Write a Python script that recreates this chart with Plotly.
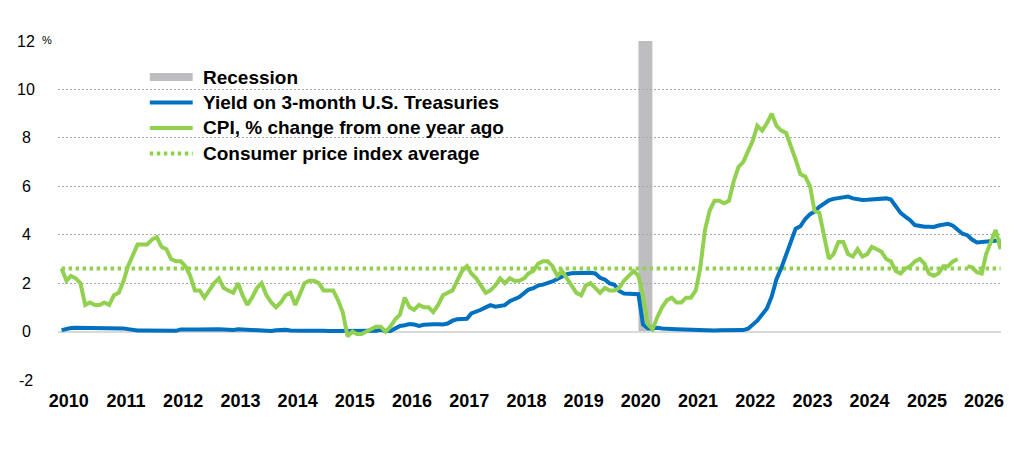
import pandas as pd
import plotly.graph_objects as go

# monthly values, Jan 2010 - Jun 2026
cpi_yoy = [
    2.6, 2.1, 2.3, 2.2, 2.0, 1.1, 1.2, 1.1, 1.1, 1.2, 1.1, 1.5,
    1.6, 2.1, 2.7, 3.2, 3.6, 3.6, 3.6, 3.8, 3.9, 3.5, 3.4, 3.0,
    2.9, 2.9, 2.7, 2.3, 1.7, 1.7, 1.4, 1.7, 2.0, 2.2, 1.8, 1.7,
    1.6, 2.0, 1.5, 1.1, 1.4, 1.8, 2.0, 1.5, 1.2, 1.0, 1.2, 1.5,
    1.6, 1.1, 1.5, 2.0, 2.1, 2.1, 2.0, 1.7, 1.7, 1.7, 1.3, 0.8,
    -0.2, 0.0, -0.1, -0.1, 0.0, 0.1, 0.2, 0.2, 0.0, 0.2, 0.5, 0.7,
    1.4, 1.0, 0.9, 1.1, 1.0, 1.0, 0.8, 1.1, 1.5, 1.6, 1.7, 2.1,
    2.5, 2.7, 2.4, 2.2, 1.9, 1.6, 1.7, 1.9, 2.2, 2.0, 2.2, 2.1,
    2.1, 2.2, 2.4, 2.5, 2.8, 2.9, 2.9, 2.7, 2.3, 2.5, 2.2, 1.9,
    1.6, 1.5, 1.9, 2.0, 1.8, 1.6, 1.8, 1.7, 1.7, 1.8, 2.1, 2.3,
    2.5, 2.3, 1.5, 0.3, 0.1, 0.6, 1.0, 1.3, 1.4, 1.2, 1.2, 1.4,
    1.4, 1.7, 2.6, 4.2, 5.0, 5.4, 5.4, 5.3, 5.4, 6.2, 6.8, 7.0,
    7.5, 7.9, 8.5, 8.3, 8.6, 9.0, 8.5, 8.3, 8.2, 7.7, 7.1, 6.5,
    6.4, 6.0, 5.0, 4.9, 4.0, 3.0, 3.2, 3.7, 3.7, 3.2, 3.1, 3.4,
    3.1, 3.2, 3.5, 3.4, 3.3, 3.0, 2.9, 2.5, 2.4, 2.6, 2.7, 2.9,
    3.0, 2.8, 2.4, 2.3, 2.4, 2.7, 2.7, 2.9, 3.0, None, 2.7, 2.65,
    2.45, 2.4, 3.2, 3.7, 4.2, 3.4,
]
treasury_3m = [
    0.06, 0.11, 0.15, 0.16, 0.16, 0.12, 0.16, 0.16, 0.15, 0.13, 0.14, 0.14,
    0.15, 0.13, 0.10, 0.06, 0.04, 0.04, 0.04, 0.02, 0.01, 0.02, 0.01, 0.01,
    0.03, 0.09, 0.08, 0.08, 0.09, 0.09, 0.10, 0.10, 0.11, 0.10, 0.09, 0.07,
    0.07, 0.10, 0.09, 0.06, 0.04, 0.05, 0.04, 0.04, 0.02, 0.05, 0.07, 0.07,
    0.04, 0.05, 0.05, 0.03, 0.03, 0.04, 0.03, 0.03, 0.02, 0.02, 0.02, 0.03,
    0.03, 0.02, 0.03, 0.02, 0.02, 0.02, 0.03, 0.07, 0.02, 0.02, 0.13, 0.23,
    0.26, 0.31, 0.29, 0.23, 0.28, 0.27, 0.30, 0.30, 0.29, 0.33, 0.45, 0.51,
    0.52, 0.53, 0.75, 0.81, 0.90, 1.00, 1.09, 1.03, 1.05, 1.09, 1.25, 1.34,
    1.43, 1.59, 1.73, 1.79, 1.90, 1.94, 1.99, 2.07, 2.17, 2.29, 2.37, 2.41,
    2.42, 2.44, 2.45, 2.43, 2.40, 2.22, 2.15, 1.99, 1.93, 1.68, 1.57, 1.55,
    1.55, 1.54, 0.30, 0.14, 0.13, 0.16, 0.13, 0.10, 0.11, 0.10, 0.09, 0.09,
    0.08, 0.04, 0.03, 0.02, 0.02, 0.04, 0.05, 0.05, 0.04, 0.05, 0.05, 0.06,
    0.12, 0.30, 0.45, 0.70, 0.95, 1.45, 2.15, 2.62, 3.18, 3.72, 4.25, 4.35,
    4.65, 4.85, 4.95, 5.15, 5.30, 5.42, 5.48, 5.52, 5.55, 5.58, 5.50, 5.45,
    5.43, 5.44, 5.45, 5.45, 5.48, 5.50, 5.45, 5.20, 4.90, 4.75, 4.60, 4.40,
    4.35, 4.33, 4.33, 4.32, 4.38, 4.42, 4.45, 4.37, 4.18, 4.04, 3.98, 3.80,
    3.68, 3.70, 3.72, 3.74, 3.76, 3.77,
]
cpi_average = 2.6
recession = ["2020-02-01", "2020-04-30"]
years = list(range(2010, 2027))
y_ticks = [-2, 0, 2, 4, 6, 8, 10, 12]
legend_names = [
    "Recession",
    "Yield on 3-month U.S. Treasuries",
    "CPI, % change from one year ago",
    "Consumer price index average",
]

blue = "#0070C0"
green = "#92D050"
grey = "#BEBEC0"
font = "Liberation Sans, Arial, sans-serif"

# page has an 8px body margin, so the figure is drawn 8px in from the corner
OFF = 8
W, H = 1024 - 2 * OFF, 464 - 2 * OFF
L, T = 58 - OFF, 41 - OFF
R, B = W - (1003 - OFF), H - (380 - OFF)
pw, ph = W - L - R, H - T - B


def px(x):
    return (x - OFF - L) / pw


def py(y):
    return (H - B - (y - OFF)) / ph


months = pd.date_range("2010-01-01", periods=len(cpi_yoy), freq="MS")

fig = go.Figure()
fig.add_shape(
    type="rect",
    xref="x",
    yref="y",
    x0=recession[0],
    x1=recession[1],
    y0=0,
    y1=max(y_ticks),
    fillcolor=grey,
    line_width=0,
    layer="below",
)
fig.add_trace(
    go.Scatter(
        x=[months[0], months[-1]],
        y=[cpi_average, cpi_average],
        mode="lines",
        line={"color": green, "width": 4, "dash": "3.5px,3.5px"},
    )
)
fig.add_trace(
    go.Scatter(x=months, y=treasury_3m, mode="lines", line={"color": blue, "width": 4})
)
fig.add_trace(
    go.Scatter(x=months, y=cpi_yoy, mode="lines", line={"color": green, "width": 4})
)

# y tick labels, centred like the original
for v in y_ticks:
    fig.add_annotation(
        x=px(26),
        y=v,
        xref="paper",
        yref="y",
        text=str(v),
        showarrow=False,
        xanchor="center",
        yanchor="middle",
        font={"family": font, "size": 16, "color": "#000000"},
    )
fig.add_annotation(
    x=px(40),
    y=max(y_ticks),
    xref="paper",
    yref="y",
    text="%",
    showarrow=False,
    xanchor="left",
    yanchor="middle",
    yshift=1,
    font={"family": font, "size": 11, "color": "#000000"},
)

# legend
rows = [77, 102.5, 128, 153.5]
for i, name in enumerate(legend_names):
    yy = py(rows[i])
    if i == 0:
        fig.add_shape(
            type="rect", xref="paper", yref="paper",
            x0=px(150), x1=px(193), y0=py(rows[i] + 4), y1=py(rows[i] - 4),
            fillcolor=grey, line_width=0,
        )
    else:
        fig.add_shape(
            type="line", xref="paper", yref="paper",
            x0=px(150), x1=px(193), y0=yy, y1=yy,
            line={"color": blue if i == 1 else green, "width": 4,
                  "dash": "3.5px,3.5px" if i == 3 else "solid"},
        )
    fig.add_annotation(
        x=px(201),
        y=yy,
        xref="paper",
        yref="paper",
        text=name,
        showarrow=False,
        xanchor="left",
        yanchor="middle",
        font={"family": font, "size": 19, "color": "#000000", "weight": "bold"},
    )

fig.update_layout(
    width=W,
    height=H,
    margin={"l": L, "r": R, "t": T, "b": B, "pad": 0},
    plot_bgcolor="white",
    paper_bgcolor="white",
    showlegend=False,
)
fig.update_xaxes(
    type="date",
    range=["2009-12-09", "2026-06-04"],
    tickvals=[f"{y}-02-16" for y in years],
    ticktext=[str(y) for y in years],
    tickfont={"family": font, "size": 18, "color": "#000000", "weight": "bold"},
    ticks="outside",
    ticklen=4,
    tickcolor="rgba(0,0,0,0)",
    showgrid=False,
    showline=False,
    zeroline=False,
)
fig.update_yaxes(
    range=[min(y_ticks), max(y_ticks)],
    tickvals=y_ticks,
    showticklabels=False,
    gridcolor="#A6A6A6",
    gridwidth=1,
    griddash="2px,2px",
    zeroline=True,
    zerolinecolor="#D9D9D9",
    zerolinewidth=2,
    showline=False,
)

fig.write_html("out.html")
